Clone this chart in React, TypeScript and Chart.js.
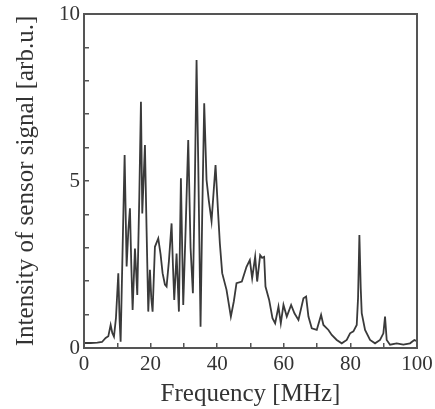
import React, { useEffect, useRef } from "react";
import { Chart, registerables } from "chart.js";

Chart.register(...registerables);

const freq = [
  0, 2, 4, 5.4, 6.5, 7.3, 8.0, 8.5, 9.0, 9.6, 10.3, 10.7, 11.0, 11.6, 12.2, 12.8, 13.3, 13.8, 14.2, 14.6,
  15.3, 15.7, 16.0, 16.6, 17.1, 17.5, 18.3, 18.8, 19.3, 19.8, 20.2, 20.6, 21.3, 22.3, 23.0, 23.6, 24.3, 24.8,
  25.5, 26.3, 26.7, 27.1, 27.8, 28.5, 29.1, 29.8, 30.5, 31.3, 32.0, 32.7, 33.3, 33.8, 34.3, 35.0, 35.5, 36.1,
  36.8, 37.5, 38.3, 39.5, 40.3, 40.8, 41.5, 42.8, 44.1, 45.0, 45.8, 47.4, 48.8, 49.8, 50.5, 51.4, 52.0, 52.9,
  53.5, 54.1, 54.5, 55.6, 56.6, 57.4, 58.4, 59.1, 59.9, 60.9, 62.2, 63.2, 64.4, 65.9, 66.7, 67.4, 68.4, 69.9,
  71.2, 71.9, 73.4, 74.4, 75.9, 77.4, 78.9, 79.9, 80.9, 81.9, 82.3, 82.7, 83.1, 83.4, 84.4, 85.9, 87.4, 88.9,
  89.9, 90.4, 90.9, 91.9, 93.9, 95.9, 97.9, 99.2, 100,
];

const signal = [
  0.15, 0.15, 0.16, 0.18, 0.3, 0.35, 0.69, 0.45, 0.34, 0.9, 2.24, 0.8, 0.19, 3.0, 5.78, 2.44, 3.5, 4.18, 2.5, 1.14,
  2.98, 2.2, 1.59, 4.5, 7.37, 4.03, 6.08, 3.5, 1.09, 2.34, 1.5, 1.09, 3.03, 3.28, 2.8, 2.24, 1.9, 1.84,
  2.6, 3.73, 2.5, 1.44, 2.83, 1.09, 5.08, 1.29, 3.5, 6.23, 3.0, 1.64, 5.0, 8.62, 5.6, 0.64, 4.0, 7.33,
  5.03, 4.4, 3.8, 5.48, 4.0, 3.13, 2.24, 1.74, 0.94, 1.4, 1.94, 1.99, 2.43, 2.63, 2.09, 2.73, 1.99, 2.78,
  2.7, 2.73, 1.84, 1.44, 0.89, 0.74, 1.24, 0.74, 1.29, 0.94, 1.29, 1.04, 0.84, 1.49, 1.54, 0.94, 0.59, 0.54,
  0.99, 0.69, 0.54, 0.39, 0.24, 0.14, 0.24, 0.44, 0.5, 0.69, 1.5, 3.38, 1.8, 1.04, 0.54, 0.24, 0.14, 0.24,
  0.44, 0.94, 0.24, 0.1, 0.14, 0.1, 0.14, 0.24, 0.2,
];

const xLabelTicks = [0, 20, 40, 60, 80, 100];
const yLabelTicks = [0, 5, 10];
const xTitle = "Frequency [MHz]";
const yTitle = "Intensity of sensor signal [arb.u.]";

const FONT = "'Liberation Serif', 'Times New Roman', serif";
const AXIS = "#555555";
const TEXT = "#333333";

const boxPlugin = {
  id: "box",
  afterDraw(chart: any) {
    const { ctx, chartArea } = chart;
    ctx.save();
    ctx.strokeStyle = AXIS;
    ctx.lineWidth = 2;
    ctx.strokeRect(chartArea.left, chartArea.top, chartArea.right - chartArea.left, chartArea.bottom - chartArea.top);
    ctx.restore();
  },
};

function zeroPad(scale: any) {
  scale.paddingLeft = 0;
  scale.paddingRight = 0;
  scale.paddingTop = 0;
  scale.paddingBottom = 0;
}

export default function App() {
  const ref = useRef<HTMLCanvasElement | null>(null);

  useEffect(() => {
    document.body.style.margin = "0";
    const canvas = ref.current;
    if (!canvas) return;
    const data = freq.map((f, i) => ({ x: f, y: signal[i] }));
    const chart = new Chart(canvas, {
      type: "line",
      data: {
        datasets: [
          {
            data,
            borderColor: "#3a3a3a",
            borderWidth: 1.8,
            pointRadius: 0,
            tension: 0,
            fill: false,
          },
        ],
      },
      options: {
        animation: false,
        responsive: false,
        events: [],
        layout: { padding: { top: 14, right: 18, left: 0, bottom: 0 } },
        plugins: { legend: { display: false }, tooltip: { enabled: false } },
        scales: {
          x: {
            type: "linear",
            min: 0,
            max: 100,
            afterFit(scale: any) {
              scale.height = 61;
              zeroPad(scale);
            },
            ticks: {
              stepSize: 10,
              autoSkip: false,
              maxRotation: 0,
              padding: 9,
              color: TEXT,
              font: { family: FONT, size: 21 },
              callback: (v: any) => (xLabelTicks.includes(Number(v)) ? String(v) : ""),
            },
            grid: { drawOnChartArea: false, drawTicks: true, tickLength: -5, color: AXIS, lineWidth: 1.5 },
            border: { display: true, color: AXIS, width: 2 },
            title: {
              display: true,
              text: xTitle,
              color: TEXT,
              font: { family: FONT, size: 25 },
              padding: { top: 0, bottom: 0 },
            },
          },
          y: {
            type: "linear",
            min: 0,
            max: 10,
            afterFit(scale: any) {
              scale.width = 84;
              zeroPad(scale);
            },
            ticks: {
              stepSize: 1,
              autoSkip: false,
              padding: 9,
              color: TEXT,
              font: { family: FONT, size: 21 },
              callback: (v: any) => (yLabelTicks.includes(Number(v)) ? String(v) : ""),
            },
            grid: { drawOnChartArea: false, drawTicks: true, tickLength: -5, color: AXIS, lineWidth: 1.5 },
            border: { display: true, color: AXIS, width: 2 },
            title: {
              display: true,
              text: yTitle,
              color: TEXT,
              font: { family: FONT, size: 25 },
              padding: { top: 11, bottom: 0 },
            },
          },
        },
      },
      plugins: [boxPlugin],
    });
    return () => chart.destroy();
  }, []);

  return (
    <div style={{ width: 435, height: 409, background: "#fff" }}>
      <canvas ref={ref} width={435} height={409} style={{ display: "block" }} />
    </div>
  );
}
